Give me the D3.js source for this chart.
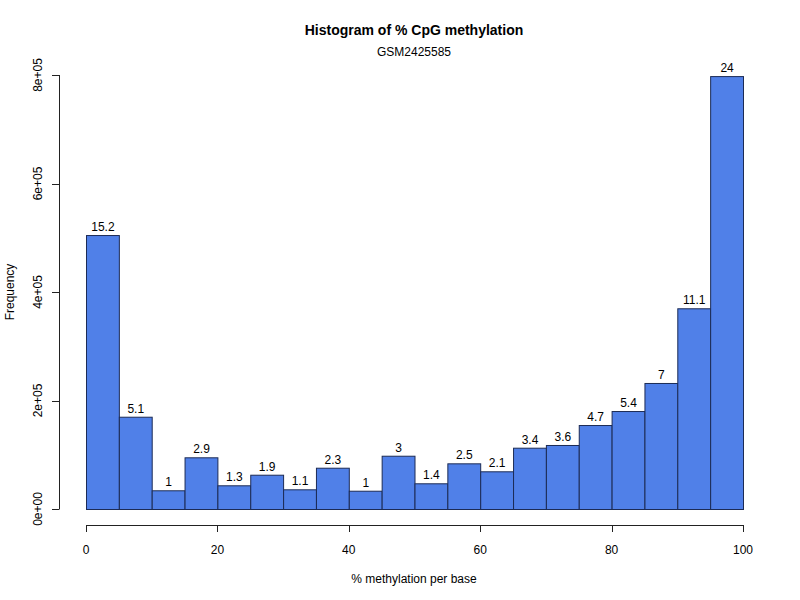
<!DOCTYPE html>
<html>
<head>
<meta charset="utf-8">
<script src="https://cdn.jsdelivr.net/npm/d3@7"></script>
<style>
  body { margin: 0; background: #fff; }
  svg { display: block; font-family: "Liberation Sans", Arial, Helvetica, sans-serif; }
</style>
</head>
<body>
<div id="chart"></div>
<script>
// bin edges (% methylation) and counts per bin
const breaks = [0, 5, 10, 15, 20, 25, 30, 35, 40, 45, 50, 55, 60, 65, 70, 75, 80, 85, 90, 95, 100];
const counts = [505000, 170100, 34500, 95300, 43700, 63200, 36300, 76100, 33700, 98200,
                47400, 84200, 69500, 113000, 118000, 154800, 180600, 232300, 370000, 798000];
// percent labels printed over each bar
const pctLabels = ["15.2", "5.1", "1", "2.9", "1.3", "1.9", "1.1", "2.3", "1", "3",
                   "1.4", "2.5", "2.1", "3.4", "3.6", "4.7", "5.4", "7", "11.1", "24"];
const xTicks = [0, 20, 40, 60, 80, 100];
const yTicks = [0, 200000, 400000, 600000, 800000];
const yTickLabels = ["0e+00", "2e+05", "4e+05", "6e+05", "8e+05"];

const W = 800, H = 600;
const svg = d3.select("#chart").append("svg").attr("width", W).attr("height", H);

// R style: plot box from 59.7 to 769, data 0..100 sits inside with 4% pad
const x = d3.scaleLinear().domain([0, 100]).range([86, 743]);
const y = d3.scaleLinear().domain([0, 800000]).range([509, 75]);
const axisX = 59, axisY = 525;
const ink = "#222";

// bars
const bins = counts.map((c, i) => ({ x0: breaks[i], x1: breaks[i + 1], n: c, lab: pctLabels[i] }));

svg.append("g").selectAll("rect")
  .data(bins)
  .join("rect")
  .attr("x", d => x(d.x0) + 0.5)
  .attr("width", d => x(d.x1) - x(d.x0))
  .attr("y", d => y(d.n) + 0.5)
  .attr("height", d => y(0) - y(d.n))
  .attr("fill", "#5080e8")
  .attr("stroke", "#1c2b55")
  .attr("stroke-width", 1);

svg.append("g").selectAll("text")
  .data(bins)
  .join("text")
  .attr("x", d => (x(d.x0) + x(d.x1)) / 2 + 0.5)
  .attr("y", d => y(d.n) - 4)
  .attr("text-anchor", "middle")
  .attr("font-size", 12)
  .attr("fill", "#000")
  .text(d => d.lab);

// y axis
const gy = svg.append("g");
gy.append("line")
  .attr("x1", axisX + 0.5).attr("x2", axisX + 0.5)
  .attr("y1", y(yTicks[0])).attr("y2", y(yTicks[yTicks.length - 1]))
  .attr("stroke", ink);
gy.selectAll("line.tick")
  .data(yTicks)
  .join("line")
  .attr("class", "tick")
  .attr("x1", axisX - 7).attr("x2", axisX + 0.5)
  .attr("y1", d => Math.round(y(d)) + 0.5).attr("y2", d => Math.round(y(d)) + 0.5)
  .attr("stroke", ink);
gy.selectAll("text")
  .data(yTicks)
  .join("text")
  .attr("transform", d => `translate(${axisX - 17},${y(d)}) rotate(-90)`)
  .attr("text-anchor", "middle")
  .attr("font-size", 12)
  .text((d, i) => yTickLabels[i]);

// x axis
const gx = svg.append("g");
gx.append("line")
  .attr("x1", x(xTicks[0])).attr("x2", x(xTicks[xTicks.length - 1]))
  .attr("y1", axisY + 0.5).attr("y2", axisY + 0.5)
  .attr("stroke", ink);
gx.selectAll("line.tick")
  .data(xTicks)
  .join("line")
  .attr("class", "tick")
  .attr("x1", d => Math.round(x(d)) + 0.5).attr("x2", d => Math.round(x(d)) + 0.5)
  .attr("y1", axisY).attr("y2", axisY + 7)
  .attr("stroke", ink);
gx.selectAll("text")
  .data(xTicks)
  .join("text")
  .attr("x", d => x(d))
  .attr("y", axisY + 29)
  .attr("text-anchor", "middle")
  .attr("font-size", 12)
  .text(d => d);

// titles
const cx = 414;
svg.append("text")
  .attr("x", cx).attr("y", 35)
  .attr("text-anchor", "middle")
  .attr("font-size", 14).attr("font-weight", "bold")
  .text("Histogram of % CpG methylation");
svg.append("text")
  .attr("x", cx).attr("y", 56)
  .attr("text-anchor", "middle")
  .attr("font-size", 12)
  .text("GSM2425585");
svg.append("text")
  .attr("x", cx).attr("y", 583)
  .attr("text-anchor", "middle")
  .attr("font-size", 12)
  .text("% methylation per base");
svg.append("text")
  .attr("transform", "translate(14,292) rotate(-90)")
  .attr("text-anchor", "middle")
  .attr("font-size", 12)
  .text("Frequency");
</script>
</body>
</html>
